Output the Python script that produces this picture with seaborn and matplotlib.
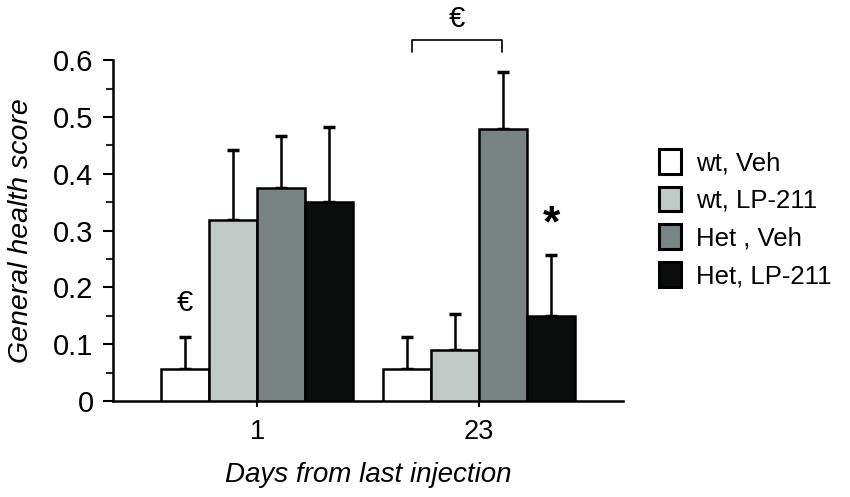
import numpy as np
import pandas as pd
import matplotlib
matplotlib.use("Agg")
import matplotlib.pyplot as plt
from matplotlib.patches import Patch
from matplotlib.ticker import MultipleLocator
import seaborn as sns

# values
days = ["1", "23"]
groups = ["wt, Veh", "wt, LP-211", "Het , Veh", "Het, LP-211"]
means_day1 = [0.056, 0.319, 0.375, 0.351]
means_day23 = [0.056, 0.090, 0.479, 0.150]
err_day1 = [0.056, 0.122, 0.091, 0.131]
err_day23 = [0.057, 0.063, 0.100, 0.107]
colors = ["#ffffff", "#c0cac7", "#778584", "#0b0d0d"]

df = pd.DataFrame({
    "day": [days[0]] * 4 + [days[1]] * 4,
    "group": groups + groups,
    "score": means_day1 + means_day23,
    "err": err_day1 + err_day23,
})

sns.set_style("white")
plt.rcParams['font.family'] = ['Liberation Sans', 'DejaVu Sans']
plt.rcParams['text.color'] = 'black'
plt.rcParams['axes.labelcolor'] = 'black'

fig = plt.figure(figsize=(8.5, 4.97), dpi=100)
ax = fig.add_axes([0.133, 0.193, 0.6, 0.686])

sns.barplot(data=df, x="day", y="score", hue="group", hue_order=groups,
            palette=colors, width=0.865, edgecolor="black", linewidth=1.8,
            errorbar=None, legend=False, ax=ax, zorder=3)

# upper error bars only
for i, p in enumerate(ax.patches[:8]):
    g = i // 2
    d = i % 2
    row = df[(df.group == groups[g]) & (df.day == days[d])].iloc[0]
    cx = p.get_x() + p.get_width() / 2
    ax.errorbar(cx, p.get_height(), yerr=[[0], [row.err]], color="black",
                lw=1.8, capsize=4, capthick=2.5, zorder=2)

ax.set_xlim(-0.65, 1.65)
ax.set_ylim(0, 0.6)
ax.yaxis.set_minor_locator(MultipleLocator(0.05))
ax.set_yticks([0, 0.1, 0.2, 0.3, 0.4, 0.5, 0.6])
ax.set_yticklabels(["0", "0.1", "0.2", "0.3", "0.4", "0.5", "0.6"])
for s in ["top", "right"]:
    ax.spines[s].set_visible(False)
for s in ["left", "bottom"]:
    ax.spines[s].set_color("black")
    ax.spines[s].set_linewidth(1.8)
ax.tick_params(axis="y", which="major", direction="out", length=7, width=1.5,
               left=True, labelsize=21, pad=7, colors="black")
ax.tick_params(axis="y", which="minor", direction="out", length=5, width=1.5, left=True)
ax.tick_params(axis="x", direction="out", length=4, width=1.5, bottom=True,
               labelsize=19.5, pad=9, colors="black")

ax.set_xlabel("Days from last injection", fontsize=20, style="italic", labelpad=12)
ax.set_ylabel("General health score", fontsize=20.5, style="italic", labelpad=14)

# significance marks
ax.text(-0.325, 0.172, "€", fontsize=21, ha="center", va="center", clip_on=False)
ax.text(1.325, 0.31, "*", fontsize=32, ha="center", va="center", fontweight="bold")
ax.plot([0.698, 0.698, 1.104, 1.104], [0.615, 0.635, 0.635, 0.615],
        color="black", lw=1.2, clip_on=False)
ax.text(0.90, 0.672, "€", fontsize=21, ha="center", va="center", clip_on=False)

handles = [Patch(facecolor=c, edgecolor="black", linewidth=2.2) for c in colors]
fig.legend(handles, groups, loc="center left", bbox_to_anchor=(0.748, 0.56),
           frameon=False, fontsize=18.5, handlelength=0.85, handleheight=1.1,
           handletextpad=0.6, labelspacing=0.45)

fig.savefig("out.png", dpi=100)
